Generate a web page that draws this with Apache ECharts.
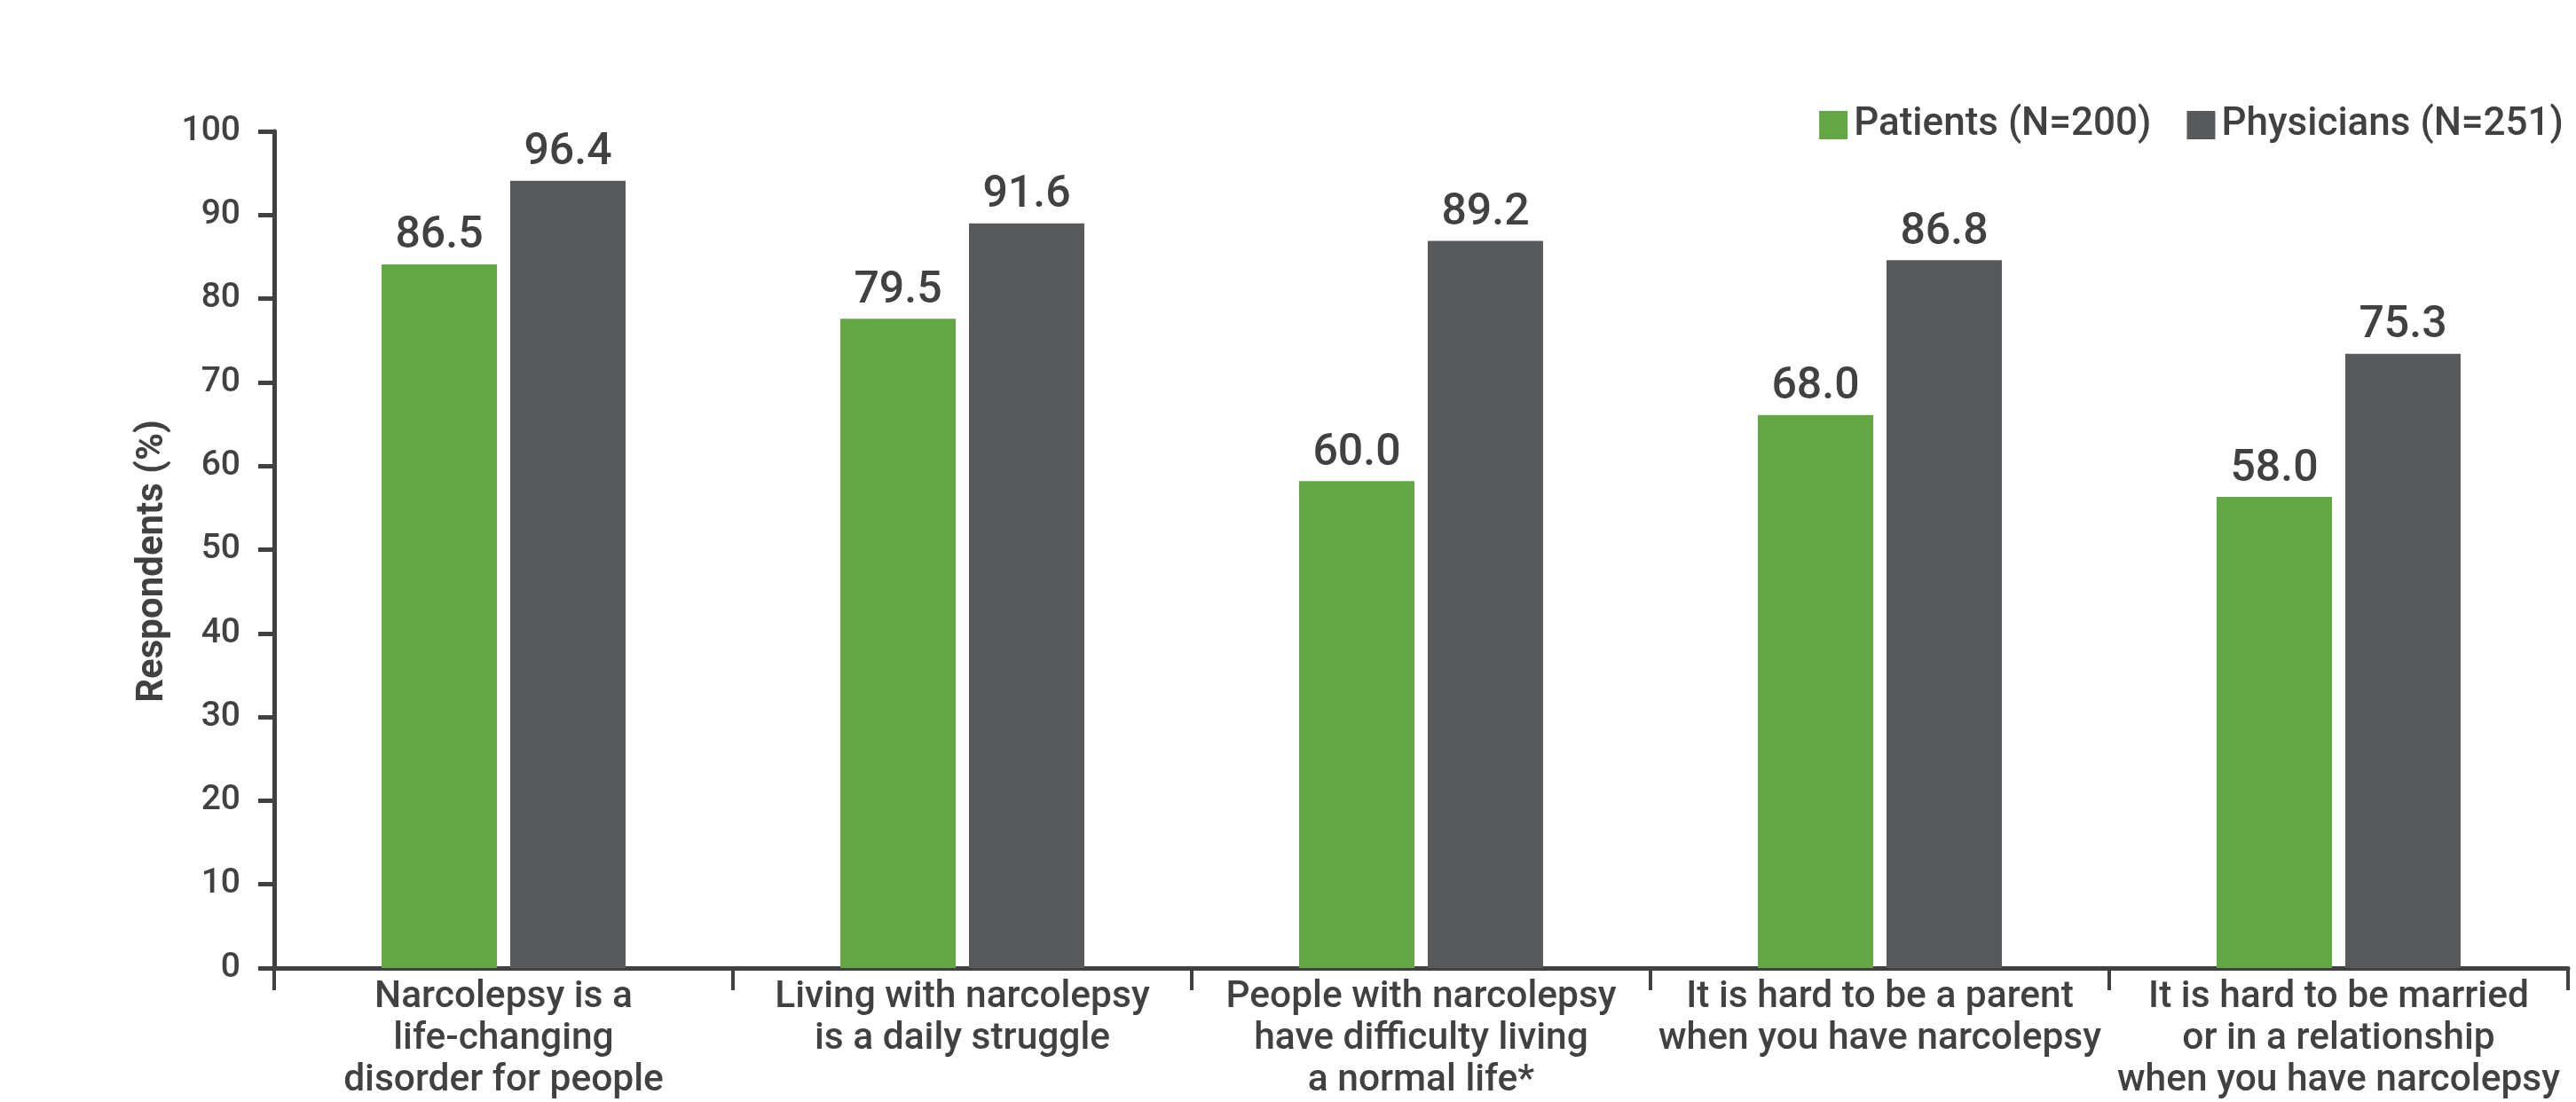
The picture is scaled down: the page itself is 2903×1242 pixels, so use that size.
<!DOCTYPE html>
<html>
<head>
<meta charset="utf-8">
<script src="https://cdn.jsdelivr.net/npm/echarts@6/dist/echarts.min.js"></script>
<style>
html,body{margin:0;padding:0;background:#fff;}
#chart{width:2903px;height:1242px;}
</style>
</head>
<body>
<div id="chart"></div>
<script>
// Categories (x-axis labels)
const categories = [
  "Narcolepsy is a\nlife-changing\ndisorder for people",
  "Living with narcolepsy\nis a daily struggle",
  "People with narcolepsy\nhave difficulty living\na normal life*",
  "It is hard to be a parent\nwhen you have narcolepsy",
  "It is hard to be married\nor in a relationship\nwhen you have narcolepsy"
];
// Series names
const seriesNames = ["Patients (N=200)", "Physicians (N=251)"];
// Bar heights as drawn in the picture
const patientsBars = [84.1, 77.6, 58.2, 66.1, 56.3];
const physiciansBars = [94.1, 89.0, 86.9, 84.6, 73.4];
// Value labels printed above bars
const patientsLabels = ["86.5", "79.5", "60.0", "68.0", "58.0"];
const physiciansLabels = ["96.4", "91.6", "89.2", "86.8", "75.3"];
// Y axis ticks
const yMin = 0, yMax = 100, yInterval = 10;

const textColor = '#414042';
const chart = echarts.init(document.getElementById('chart'), null, {renderer: 'canvas'});
const font = 'Roboto';

function makeSeries(name, values, labels, color) {
  return {
    name: name,
    type: 'bar',
    barWidth: 130,
    barGap: '11.5%',
    data: values,
    itemStyle: {color: color},
    label: {
      show: true,
      position: 'top',
      distance: 6,
      color: textColor,
      fontFamily: font,
      fontWeight: 500,
      fontSize: 50,
      formatter: p => labels[p.dataIndex]
    }
  };
}

chart.setOption({
  animation: false,
  backgroundColor: '#fff',
  textStyle: {fontFamily: font, color: textColor},
  grid: {left: 309, right: 9, top: 148, bottom: 146, containLabel: false},
  legend: {
    data: seriesNames,
    right: 9,
    top: 114,
    icon: 'rect',
    itemWidth: 32,
    itemHeight: 32,
    itemGap: 40,
    textStyle: {fontFamily: font, fontSize: 44, fontWeight: 500, color: textColor, padding: [0,0,0,2]}
  },
  xAxis: {
    type: 'category',
    data: categories,
    axisLine: {show: true, lineStyle: {color: textColor, width: 5}},
    axisTick: {show: true, length: 25, lineStyle: {color: textColor, width: 4}},
    axisLabel: {
      interval: 0,
      fontFamily: font,
      fontWeight: 500,
      fontSize: 42.5,
      lineHeight: 47,
      color: textColor,
      margin: 10
    }
  },
  yAxis: {
    type: 'value',
    min: yMin,
    max: yMax,
    interval: yInterval,
    name: 'Respondents (%)',
    nameLocation: 'middle',
    nameGap: 116,
    nameTextStyle: {fontFamily: font, fontSize: 42, fontWeight: 'bold', color: textColor, padding: [0, 26, 0, 0]},
    axisLine: {show: true, lineStyle: {color: textColor, width: 5}},
    axisTick: {show: true, length: 18, lineStyle: {color: textColor, width: 5}},
    axisLabel: {fontFamily: font, fontSize: 39, fontWeight: 500, color: textColor, margin: 38},
    splitLine: {show: false}
  },
  series: [
    makeSeries(seriesNames[0], patientsBars, patientsLabels, '#62a744'),
    makeSeries(seriesNames[1], physiciansBars, physiciansLabels, '#58595b')
  ]
});
</script>
</body>
</html>
